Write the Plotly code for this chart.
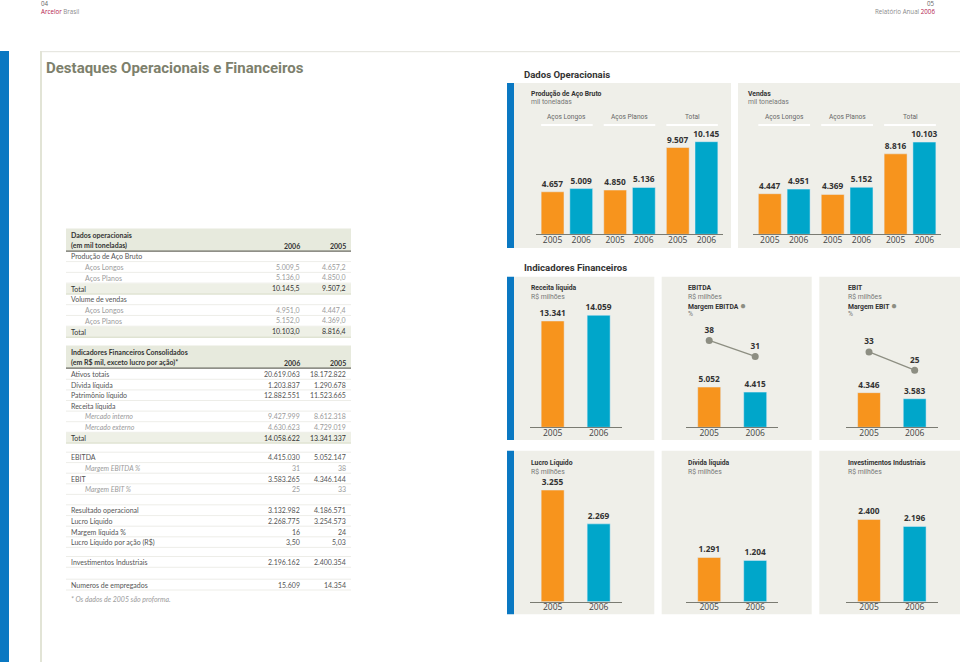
import plotly.graph_objects as go

W, H = 960, 662
def px(x): return x / W
def py(y): return 1 - y / H

ORANGE = "#f7941d"
BLUE = "#00a6ca"
DARKBLUE = "#0a78c2"
PANEL = "#efefe9"
GREYDOT = "#8d8e82"
TXT = "#333333"
CF = "Open Sans"
HF = "Roboto"
TF = "Lato"

# ---------------- chart data ----------------
years = ["2005", "2006"]
groups = ["Aços Longos", "Aços Planos", "Total"]
producao_2005 = [4657, 4850, 9507]
producao_2006 = [5009, 5136, 10145]
vendas_2005 = [4447, 4369, 8816]
vendas_2006 = [4951, 5152, 10103]
receita = [13341, 14059]
ebitda = [5052, 4415]
margem_ebitda = [38, 31]
ebit = [4346, 3583]
margem_ebit = [33, 25]
lucro = [3255, 2269]
divida = [1291, 1204]
investimentos = [2400, 2196]

# ---------------- table data ----------------
t1_items = ["Aços Longos", "Aços Planos", "Total"]
prod_tab_2006 = [5009.5, 5136.0, 10145.5]
prod_tab_2005 = [4657.2, 4850.0, 9507.2]
vend_tab_2006 = [4951.0, 5152.0, 10103.0]
vend_tab_2005 = [4447.4, 4369.0, 8816.4]

fin_labels = ["Ativos totais", "Dívida líquida", "Patrimônio líquido"]
fin_2006 = [20619063, 1203837, 12882551]
fin_2005 = [18172822, 1290678, 11523665]
rec_labels = ["Mercado interno", "Mercado externo", "Total"]
rec_2006 = [9427999, 4630623, 14058622]
rec_2005 = [8612318, 4729019, 13341337]

res_labels = ["EBITDA", "Margem EBITDA %", "EBIT", "Margem EBIT %"]
res_2006 = [4415030, 31, 3583265, 25]
res_2005 = [5052147, 38, 4346144, 33]
luc_labels = ["Resultado operacional", "Lucro Líquido", "Margem líquida %", "Lucro Líquido por ação (R$)"]
luc_2006 = [3132982, 2268775, 16, 3.50]
luc_2005 = [4186571, 3254573, 24, 5.03]
luc_dec = [0, 0, 0, 2]
inv_label = ["Investimentos Industriais"]
inv_2006 = [2196162]
inv_2005 = [2400354]
emp_label = ["Numeros de empregados"]
emp_2006 = [15609]
emp_2005 = [14354]


def fmt(v, d=0):
    s = f"{v:,.{d}f}"
    return s.replace(",", "X").replace(".", ",").replace("X", ".")


ann = []
shapes = []

def text(x, y, s, size=7, color=TXT, anchor="left", family=CF, bold=False, italic=False):
    if bold:
        s = f"<b>{s}</b>"
    if italic:
        s = f"<i>{s}</i>"
    ann.append(dict(x=px(x), y=py(y), xref="paper", yref="paper", text=s, showarrow=False,
                    xanchor=anchor, yanchor="middle", borderpad=0,
                    font=dict(size=size, color=color, family=family)))

def rect(x0, y0, x1, y1, color, layer="below"):
    shapes.append(dict(type="rect", xref="paper", yref="paper", x0=px(x0), x1=px(x1),
                       y0=py(y1), y1=py(y0), fillcolor=color, line_width=0, layer=layer))

def hline(x0, x1, y, color, w=1, layer="below"):
    shapes.append(dict(type="line", xref="paper", yref="paper", x0=px(x0), x1=px(x1),
                       y0=py(y), y1=py(y), line=dict(color=color, width=w), layer=layer))

def vline(x, y0, y1, color, w=1):
    shapes.append(dict(type="line", xref="paper", yref="paper", x0=px(x), x1=px(x),
                       y0=py(y0), y1=py(y1), line=dict(color=color, width=w), layer="below"))

# ---------------- page frame ----------------
rect(0, 51, 9, 662, DARKBLUE)
vline(41, 51, 662, "#d9dbc8", 1.5)
hline(41, 960, 51.7, "#e2e2da", 1)

text(40, 3.6, "04", size=6.2, color="#666666")
text(40, 11.2, "<span style='color:#b3204d'>Arcelor</span> Brasil", size=6.2, color="#8a8a8a")
text(936, 3.6, "05", size=6.2, color="#666666", anchor="right")
text(936, 11.2, "Relatório Anual <span style='color:#b3204d'>2006</span>", size=6.2, color="#8a8a8a", anchor="right")

text(45, 68, "Destaques Operacionais e Financeiros", size=15, color="#7d806c", family=HF, bold=True)

# ---------------- tables ----------------
TX0, TX1 = 66, 351
LX, IX = 70, 84
C6, C5 = 301, 347
LIGHT = "#9b9b9b"
NORM = "#555555"
HEADBG = "#e7eadd"
TOTBG = "#eef0e6"
SEP = "#e8e8e2"
DARKLINE = "#6b6b63"

def trow(y, label, v6="", v5="", kind="normal", sep=True):
    if kind == "total":
        rect(TX0, y - 5.2, TX1, y + 5.2, TOTBG)
        hline(TX0, TX1, y + 5.5, "#dfe3d2", 1.5)
        text(LX, y, label, color=TXT, family=TF)
        text(C6, y, v6, color=TXT, family=TF, anchor="right")
        text(C5, y, v5, color=TXT, family=TF, anchor="right")
        return
    col = {"normal": NORM, "item": LIGHT, "itemi": LIGHT}[kind]
    x = IX if kind in ("item", "itemi") else LX
    it = kind == "itemi"
    text(x, y, label, color=col, family=TF, italic=it)
    if v6 != "":
        text(C6, y, v6, color=col, family=TF, anchor="right")
        text(C5, y, v5, color=col, family=TF, anchor="right")
    if sep:
        hline(TX0, TX1, y + 5.3, SEP, 0.8)

def theader(y1, y2, title, sub):
    rect(TX0, y1 - 6.5, TX1, y2 + 5.5, HEADBG)
    hline(TX0, TX1, y2 + 5.5, DARKLINE, 1.2)
    text(LX, y1, title, color=TXT, family=TF, bold=True)
    text(LX, y2, sub, color=TXT, family=TF, bold=True)
    text(C6, y2, "2006", color=TXT, family=TF, bold=True, anchor="right")
    text(C5, y2, "2005", color=TXT, family=TF, bold=True, anchor="right")

# table 1
theader(235, 245.7, "Dados operacionais", "(em mil toneladas)")
STEP = 10.77
y = 256.3
trow(y, "Produção de Aço Bruto")
for i, lab in enumerate(t1_items):
    y += STEP
    trow(y, lab, fmt(prod_tab_2006[i], 1), fmt(prod_tab_2005[i], 1), "total" if lab == "Total" else "item")
y += STEP
trow(y, "Volume de vendas")
for i, lab in enumerate(t1_items):
    y += STEP
    trow(y, lab, fmt(vend_tab_2006[i], 1), fmt(vend_tab_2005[i], 1), "total" if lab == "Total" else "item")

# table 2
theader(352, 362.7, "Indicadores Financeiros Consolidados", "(em R$ mil, exceto lucro por ação)*")
STEP2 = 10.6
y = 374
for i, lab in enumerate(fin_labels):
    trow(y, lab, fmt(fin_2006[i]), fmt(fin_2005[i]))
    y += STEP2
trow(y, "Receita líquida")
for i, lab in enumerate(rec_labels):
    y += STEP2
    trow(y, lab, fmt(rec_2006[i]), fmt(rec_2005[i]), "total" if lab == "Total" else "itemi")

# table 3
hline(TX0, TX1, 452.2, SEP, 0.8)
y = 457.3
for i, lab in enumerate(res_labels):
    trow(y, lab, fmt(res_2006[i]), fmt(res_2005[i]), "itemi" if "Margem" in lab else "normal")
    y += STEP2
hline(TX0, TX1, 504.8, SEP, 0.8)
y = 510.3
for i, lab in enumerate(luc_labels):
    trow(y, lab, fmt(luc_2006[i], luc_dec[i]), fmt(luc_2005[i], luc_dec[i]))
    y += STEP2
hline(TX0, TX1, 556.5, SEP, 0.8)
trow(562, inv_label[0], fmt(inv_2006[0]), fmt(inv_2005[0]))
hline(TX0, TX1, 579.2, SEP, 0.8)
trow(584.7, emp_label[0], fmt(emp_2006[0]), fmt(emp_2005[0]))
text(LX, 599.3, "* Os dados de 2005 são proforma.", color=LIGHT, family=TF, italic=True)

# ---------------- chart panels ----------------
text(523, 74.5, "Dados Operacionais", size=9.6, color=TXT, family=HF, bold=True)
text(523, 267.5, "Indicadores Financeiros", size=9.6, color=TXT, family=HF, bold=True)

rect(507, 83, 514, 248, DARKBLUE)
rect(514, 83, 731, 248, PANEL)
rect(738, 83, 960, 248, PANEL)
for (y0, y1) in [(276.7, 440), (450.7, 614.3)]:
    rect(507, y0, 514, y1, DARKBLUE)
    rect(514, y0, 654.3, y1, PANEL)
    rect(661.7, y0, 811.7, y1, PANEL)
    rect(819.3, y0, 960, y1, PANEL)

def ptitle(x, y, title, sub):
    text(x, y, title, size=6.8, color=TXT, family=HF, bold=True)
    text(x, y + 8.4, sub, size=6.8, color="#777777", family=HF)

DOT = f"<span style='color:{GREYDOT};font-size:10px'>●</span>"
ptitle(530, 94, "Produção de Aço Bruto", "mil toneladas")
ptitle(746.7, 94, "Vendas", "mil toneladas")
ptitle(530, 288.3, "Receita líquida", "R$ milhões")
ptitle(686.7, 288.3, "EBITDA", "R$ milhões")
ptitle(846.7, 288.3, "EBIT", "R$ milhões")
ptitle(686.7, 305.8, f"Margem EBITDA {DOT}", "%")
ptitle(846.7, 305.8, f"Margem EBIT {DOT}", "%")
ptitle(530, 463.3, "Lucro Líquido", "R$ milhões")
ptitle(686.7, 463.3, "Dívida líquida", "R$ milhões")
ptitle(846.7, 463.3, "Investimentos Industriais", "R$ milhões")

# axes scales
S1, YMAX1, BASE1 = 0.009128, 11000, 234.3
S2, YMAX2, BASE2 = 0.00797, 15000, 427.3
S3, YMAX3, BASE3 = 0.0343, 3700, 601.7
PCT = 2.285

def ydom(base, ymax, s):
    return [py(base), py(base - ymax * s)]

OFF, BW = 0.229, 0.365
LABF = dict(size=8.3, color=TXT, family=CF, weight="bold")

fig = go.Figure()
grouped = [("x", "y", producao_2005, producao_2006), ("x2", "y2", vendas_2005, vendas_2006)]
for xa, ya, v05, v06 in grouped:
    gi = list(range(len(groups)))
    fig.add_trace(go.Bar(x=[i - OFF for i in gi], y=v05, width=BW, marker_color=ORANGE,
                         xaxis=xa, yaxis=ya, texttemplate="%{y:,.0f}", textposition="outside",
                         textfont=LABF, cliponaxis=False, constraintext="none", hoverinfo="skip"))
    fig.add_trace(go.Bar(x=[i + OFF for i in gi], y=v06, width=BW, marker_color=BLUE,
                         xaxis=xa, yaxis=ya, texttemplate="%{y:,.0f}", textposition="outside",
                         textfont=LABF, cliponaxis=False, constraintext="none", hoverinfo="skip"))
    for i, g in enumerate(groups):
        ann.append(dict(x=i, y=py(116.7), xref=xa, yref="paper", text=g, showarrow=False,
                        xanchor="center", yanchor="middle",
                        font=dict(size=6.6, color="#666666", family=HF)))
        shapes.append(dict(type="line", xref=xa, yref="paper", x0=i - OFF - BW / 2, x1=i + OFF + BW / 2,
                           y0=py(125), y1=py(125), line=dict(color="white", width=2.2)))

single = [("x3", "y3", receita), ("x4", "y4", ebitda), ("x5", "y5", ebit),
          ("x6", "y6", lucro), ("x7", "y7", divida), ("x8", "y8", investimentos)]
for xa, ya, vals in single:
    fig.add_trace(go.Bar(x=years, y=vals, width=0.5, marker_color=[ORANGE, BLUE],
                         xaxis=xa, yaxis=ya, texttemplate="%{y:,.0f}", textposition="outside",
                         textfont=LABF, cliponaxis=False, constraintext="none", hoverinfo="skip"))

for xa, ya, vals in [("x4", "y9", margem_ebitda), ("x5", "y10", margem_ebit)]:
    fig.add_trace(go.Scatter(x=years, y=vals, xaxis=xa, yaxis=ya, mode="lines+markers+text",
                             text=[str(v) for v in vals], textposition="top center",
                             textfont=LABF, marker=dict(size=7, color=GREYDOT),
                             line=dict(color=GREYDOT, width=1.3), cliponaxis=False, hoverinfo="skip"))

XBASE = dict(showline=True, linecolor="#7a7b72", linewidth=1, ticks="", showgrid=False,
             zeroline=False, tickfont=dict(size=8.5, color="#444444", family=CF),
             ticklabelstandoff=-3, fixedrange=True)
YBASE = dict(showgrid=False, zeroline=False, showticklabels=False, showline=False, fixedrange=True)

lay = {}
gpos = sorted([i - OFF for i in range(3)] + [i + OFF for i in range(3)])
gtxt = years * 3
lay["xaxis"] = dict(XBASE, domain=[px(535.6), px(723.4)], range=[-0.5, 2.5], anchor="y",
                    tickmode="array", tickvals=gpos, ticktext=gtxt)
lay["xaxis2"] = dict(XBASE, domain=[px(752.75), px(941.45)], range=[-0.5, 2.5], anchor="y2",
                     tickmode="array", tickvals=gpos, ticktext=gtxt)
lay["yaxis"] = dict(YBASE, domain=ydom(BASE1, YMAX1, S1), range=[0, YMAX1], anchor="x")
lay["yaxis2"] = dict(YBASE, domain=ydom(BASE1, YMAX1, S1), range=[0, YMAX1], anchor="x2")

cols = [(529.65, 621.65), (686.2, 778.2), (846.2, 937.5)]
for k, n in enumerate([3, 4, 5, 6, 7, 8]):
    c = cols[k % 3]
    base, ymax, s = (BASE2, YMAX2, S2) if n <= 5 else (BASE3, YMAX3, S3)
    lay[f"xaxis{n}"] = dict(XBASE, domain=[px(c[0]), px(c[1])], range=[-0.5, 1.5], anchor=f"y{n}",
                            type="category")
    lay[f"yaxis{n}"] = dict(YBASE, domain=ydom(base, ymax, s), range=[0, ymax], anchor=f"x{n}")

lay["yaxis9"] = dict(YBASE, overlaying="y4", anchor="x4", range=[0, YMAX2 * S2 / PCT])
lay["yaxis10"] = dict(YBASE, overlaying="y5", anchor="x5", range=[0, YMAX2 * S2 / PCT])

fig.update_layout(**lay)
fig.update_layout(width=W, height=H, margin=dict(l=0, r=0, t=0, b=0), autosize=False,
                  paper_bgcolor="white", plot_bgcolor="rgba(0,0,0,0)", showlegend=False,
                  barmode="overlay", separators=",.", annotations=ann, shapes=shapes,
                  font=dict(family=CF), hovermode=False)

fig.write_html("out.html", config={"displayModeBar": False, "staticPlot": True},
               post_script="document.body.style.margin='0';document.body.style.overflow='hidden';")
